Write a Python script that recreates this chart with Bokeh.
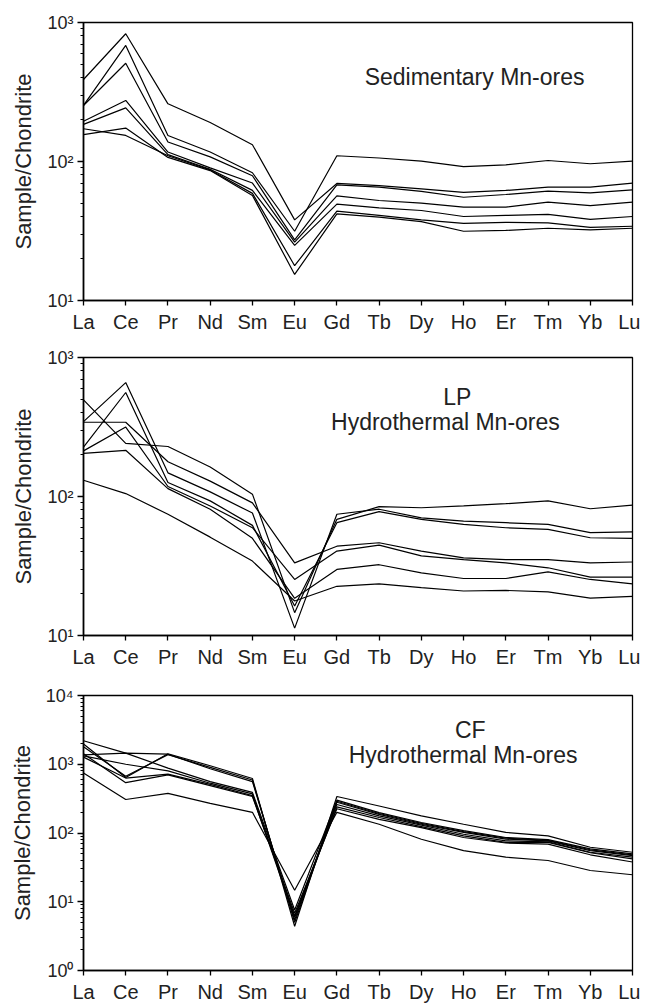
import math
from bokeh.plotting import figure
from bokeh.layouts import column
from bokeh.models import Range1d, FixedTicker, CustomJSTickFormatter, Label
from bokeh.embed import file_html
from bokeh.resources import INLINE

# ---------------- data ----------------
elements = ["La", "Ce", "Pr", "Nd", "Sm", "Eu", "Gd", "Tb", "Dy", "Ho", "Er", "Tm", "Yb", "Lu"]

# Sedimentary Mn-ores (sample / chondrite)
sed_1 = [389, 830, 260, 191, 132, 38.0, 69.5, 67.0, 63.6, 60.0, 61.9, 65.4, 65.4, 69.9]
sed_2 = [253, 684, 154, 117, 83, 31.5, 110, 106, 100.5, 92.0, 94.7, 101.7, 96.3, 100.5]
sed_3 = [253, 509, 138, 108, 79, 27.3, 68.0, 65.4, 61.0, 55.3, 57.9, 61.2, 59.4, 62.4]
sed_4 = [195, 275, 117, 90, 70, 26.3, 56.6, 52.4, 50.2, 46.9, 46.9, 51.0, 48.2, 51.0]
sed_5 = [185, 243, 112, 88, 62, 24.9, 49.3, 46.4, 44.4, 40.2, 40.9, 41.6, 38.3, 40.2]
sed_6 = [172, 154, 110, 87, 59, 17.8, 43.9, 40.9, 38.0, 35.9, 36.5, 36.2, 33.6, 34.2]
sed_7 = [156, 174, 107, 86, 57, 15.4, 42.0, 39.8, 36.9, 31.5, 31.9, 33.1, 32.2, 33.1]

# LP hydrothermal Mn-ores
lp_1 = [495, 241, 229, 163, 104, 14.6, 68.5, 84.5, 83.0, 85.5, 88.8, 93.0, 81.6, 86.6]
lp_2 = [346, 660, 148, 108, 76, 11.3, 74.5, 81.0, 70.2, 66.5, 64.8, 63.0, 55.0, 55.6]
lp_3 = [342, 342, 178, 129, 90, 33.3, 43.9, 46.5, 40.5, 36.2, 35.2, 35.2, 33.3, 33.8]
lp_4 = [227, 560, 126, 93, 62, 16.3, 64.8, 77.9, 68.5, 63.0, 59.6, 58.0, 50.5, 50.0]
lp_5 = [213, 316, 118, 85.5, 59.6, 25.3, 40.5, 44.7, 37.4, 35.2, 33.3, 30.7, 26.3, 26.3]
lp_6 = [204, 215, 114, 81, 50, 18.5, 29.9, 32.3, 28.2, 25.7, 25.7, 28.7, 25.3, 23.5]
lp_7 = [131, 105, 74.5, 51, 34.3, 17.7, 22.6, 23.5, 22.1, 20.9, 21.1, 20.6, 18.6, 19.1]

# CF hydrothermal Mn-ores
cf_1 = [2200, 1450, 880, 560, 390, 7.6, 300, 198, 142, 108, 86.0, 80.0, 58.6, 49.7]
cf_2 = [1970, 640, 1420, 950, 620, 4.4, 340, 247, 177, 134, 102, 91.0, 62.0, 52.5]
cf_3 = [1800, 670, 1380, 900, 590, 5.0, 280, 187, 134, 102, 81.5, 77.0, 55.4, 46.9]
cf_4 = [1370, 1450, 1400, 860, 560, 5.4, 290, 192, 138, 105, 84.0, 78.0, 57.0, 48.0]
cf_5 = [1325, 1000, 800, 530, 370, 6.2, 260, 177, 130, 96.0, 77.0, 74.5, 52.5, 44.5]
cf_6 = [1270, 630, 720, 510, 350, 5.9, 240, 168, 124, 91.0, 73.0, 73.0, 51.6, 42.0]
cf_7 = [1420, 540, 700, 490, 340, 6.8, 225, 158, 120, 86.0, 71.5, 69.0, 48.2, 37.9]
cf_8 = [747, 307, 376, 270, 200, 14.7, 200, 134, 81.0, 55.4, 44.5, 39.8, 28.5, 24.7]

panels = [
    dict(series=[sed_1, sed_2, sed_3, sed_4, sed_5, sed_6, sed_7], yr=(10, 1000),
         labels=[("Sedimentary Mn-ores", 9.26, 408)],
         h=336, bt=22, bb=36),
    dict(series=[lp_1, lp_2, lp_3, lp_4, lp_5, lp_6, lp_7], yr=(10, 1000),
         labels=[("LP", 8.85, 522), ("Hydrothermal Mn-ores", 8.57, 343)],
         h=335, bt=21, bb=36),
    dict(series=[cf_1, cf_2, cf_3, cf_4, cf_5, cf_6, cf_7, cf_8], yr=(1, 10000),
         labels=[("CF", 9.16, 3100), ("Hydrothermal Mn-ores", 8.99, 1356)],
         h=334, bt=24, bb=33),
]

FONT = "Liberation Sans"
xs = list(range(len(elements)))

sup_fmt = CustomJSTickFormatter(code="""
const sup = {"0":"\u2070","1":"\u00b9","2":"\u00b2","3":"\u00b3","4":"\u2074"};
const e = Math.round(Math.log10(tick));
return "10" + sup[String(e)];
""")

figs = []
for pnl in panels:
    lo, hi = pnl["yr"]
    p = figure(width=640, height=pnl["h"], y_axis_type="log",
               x_range=Range1d(0, len(elements) - 1), y_range=Range1d(lo, hi),
               output_backend="svg", toolbar_location=None,
               min_border_left=83, min_border_right=8,
               min_border_top=pnl["bt"], min_border_bottom=pnl["bb"])
    p.grid.visible = False
    p.outline_line_color = "black"
    p.outline_line_width = 1.3
    p.background_fill_color = "white"
    p.border_fill_color = "white"

    for s in pnl["series"]:
        p.line(xs, s, line_color="black", line_width=1.2)

    # x axis
    p.xaxis.ticker = FixedTicker(ticks=xs)
    p.xaxis.major_label_overrides = {i: e for i, e in enumerate(elements)}
    p.xaxis.minor_tick_line_color = None
    p.xaxis.major_tick_in = 0
    p.xaxis.major_tick_out = 5
    p.xaxis.major_label_standoff = 5
    p.xaxis.major_label_text_font = FONT
    p.xaxis.major_label_text_font_size = "20px"
    p.xaxis.major_label_text_color = "#222222"
    p.xaxis.axis_line_width = 1.6
    p.xaxis.major_tick_line_width = 1.3

    # y axis
    e0, e1 = int(round(math.log10(lo))), int(round(math.log10(hi)))
    majors = [10.0 ** e for e in range(e0, e1 + 1)]
    minors = [m * 10.0 ** e for e in range(e0, e1) for m in range(2, 10)]
    p.yaxis.ticker = FixedTicker(ticks=majors, minor_ticks=minors)
    p.yaxis.formatter = sup_fmt
    p.yaxis.major_tick_in = 0
    p.yaxis.major_tick_out = 6
    p.yaxis.minor_tick_in = 0
    p.yaxis.minor_tick_out = 3
    p.yaxis.major_label_standoff = 4
    p.yaxis.major_label_text_font = FONT
    p.yaxis.major_label_text_font_size = "18px"
    p.yaxis.major_label_text_color = "#222222"
    p.yaxis.axis_line_width = 1.6
    p.yaxis.major_tick_line_width = 1.3
    p.yaxis.minor_tick_line_width = 1.0
    p.yaxis.axis_label = "Sample/Chondrite"
    p.yaxis.axis_label_text_font = FONT
    p.yaxis.axis_label_text_font_size = "22px"
    p.yaxis.axis_label_text_font_style = "normal"
    p.yaxis.axis_label_text_color = "#222222"
    p.yaxis.axis_label_standoff = 8

    for txt, lx, ly in pnl["labels"]:
        p.add_layout(Label(x=lx, y=ly, text=txt, text_align="center",
                           text_baseline="alphabetic", text_font=FONT,
                           text_font_size="23px", text_color="#222222"))
    figs.append(p)

layout = column(*figs, spacing=0)
open("out.html", "w").write(file_html(layout, INLINE))
